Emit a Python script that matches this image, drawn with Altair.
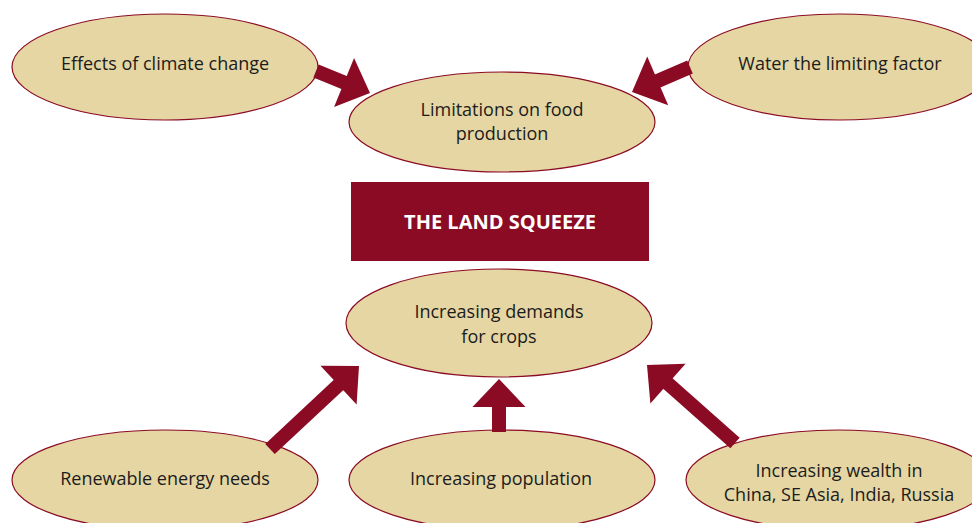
import math
import altair as alt
import pandas as pd

# ---------------- data (reference pixel coordinates) ----------------
ell_cx = [165, 840, 502, 499, 165, 502, 838]
ell_cy = [67, 67, 122, 323, 480, 480, 480]
ell_rx = [153, 152, 153, 153, 153, 153, 152]
ell_ry = [53, 53, 50, 54, 50, 50, 50]

label_text = ["Effects of climate change", "Water the limiting factor",
              "Limitations on food", "production",
              "Increasing demands", "for crops",
              "Renewable energy needs", "Increasing population",
              "Increasing wealth in", "China, SE Asia, India, Russia"]
label_x = [165, 840, 502, 502, 499, 499, 165, 501, 839, 839]
label_y = [65, 65, 111, 135, 313, 338, 480, 480, 472, 496]

title_text = ["THE LAND SQUEEZE"]
box_x = [351]
box_x2 = [649]
box_y = [182]
box_y2 = [261]

arrow_x0 = [316, 690, 270, 499, 735]
arrow_y0 = [71, 67, 449, 432, 443]
arrow_x1 = [370, 632, 359, 499, 647]
arrow_y1 = [93, 92, 366, 379, 365]

DARK = "#8b0b25"
FILL = "#e5d6a3"
TEXT = "#1c1c1c"
FONT = "Open Sans"

W, H = 964, 515
xs = alt.Scale(domain=[8, 8 + W], nice=False, zero=False)
ys = alt.Scale(domain=[8, 8 + H], nice=False, zero=False, reverse=True)

# ---------------- derived tables ----------------
K = 0.5523


def ellipse_path(r):
    return (f"M -1 0 C -1 {-K*r:.4f} {-K:.4f} {-r:.4f} 0 {-r:.4f} "
            f"C {K:.4f} {-r:.4f} 1 {-K*r:.4f} 1 0 "
            f"C 1 {K*r:.4f} {K:.4f} {r:.4f} 0 {r:.4f} "
            f"C {-K:.4f} {r:.4f} -1 {K*r:.4f} -1 0 Z")


ell = pd.DataFrame({
    "x": ell_cx, "y": ell_cy,
    "path": [ellipse_path(ry / rx) for rx, ry in zip(ell_rx, ell_ry)],
    "size": [(2 * rx) ** 2 for rx in ell_rx],
})

HEAD_L = 28.0
HEAD_HW = 26.5
head_path = f"M 0 {-HEAD_L/2/HEAD_HW:.4f} L 1 {HEAD_L/2/HEAD_HW:.4f} L -1 {HEAD_L/2/HEAD_HW:.4f} Z"

rows = []
for x0, y0, x1, y1 in zip(arrow_x0, arrow_y0, arrow_x1, arrow_y1):
    dx, dy = x1 - x0, y1 - y0
    n = math.hypot(dx, dy)
    ux, uy = dx / n, dy / n
    rows.append({
        "sx": x0, "sy": y0,
        "ex": x1 - ux * (HEAD_L - 2), "ey": y1 - uy * (HEAD_L - 2),
        "hx": x1 - ux * HEAD_L / 2, "hy": y1 - uy * HEAD_L / 2,
        "angle": math.degrees(math.atan2(dx, -dy)) % 360,
    })
arr = pd.DataFrame(rows)

labels = pd.DataFrame({"x": label_x, "y": label_y, "t": label_text})
box = pd.DataFrame({"x": box_x, "x2": box_x2, "y": box_y, "y2": box_y2,
                    "t": title_text,
                    "cx": [(a + b) / 2 for a, b in zip(box_x, box_x2)],
                    "cy": [(a + b) / 2 for a, b in zip(box_y, box_y2)]})

# ---------------- layers ----------------
ellipses = alt.Chart(ell).mark_point(
    filled=True, fill=FILL, stroke=DARK, strokeWidth=1.2, opacity=1
).encode(
    x=alt.X("x:Q", scale=xs, axis=None),
    y=alt.Y("y:Q", scale=ys, axis=None),
    shape=alt.Shape("path:N", scale=None),
    size=alt.Size("size:Q", scale=None),
)

rect = alt.Chart(box).mark_rect(color=DARK).encode(
    x=alt.X("x:Q", scale=xs, axis=None), x2="x2:Q",
    y=alt.Y("y:Q", scale=ys, axis=None), y2="y2:Q",
)

title = alt.Chart(box).mark_text(
    font=FONT, fontSize=20, fontWeight="bold", color="white",
    align="center", baseline="middle", dy=1
).encode(
    x=alt.X("cx:Q", scale=xs, axis=None),
    y=alt.Y("cy:Q", scale=ys, axis=None),
    text="t:N",
)

shafts = alt.Chart(arr).mark_rule(color=DARK, strokeWidth=14, strokeCap="butt").encode(
    x=alt.X("sx:Q", scale=xs, axis=None), x2="ex:Q",
    y=alt.Y("sy:Q", scale=ys, axis=None), y2="ey:Q",
)

heads = alt.Chart(arr).mark_point(
    filled=True, fill=DARK, strokeWidth=0, opacity=1, shape=head_path,
    size=(2 * HEAD_HW) ** 2
).encode(
    x=alt.X("hx:Q", scale=xs, axis=None),
    y=alt.Y("hy:Q", scale=ys, axis=None),
    angle=alt.Angle("angle:Q", scale=None),
)

texts = alt.Chart(labels).mark_text(
    font=FONT, fontSize=18, color=TEXT, align="center", baseline="middle"
).encode(
    x=alt.X("x:Q", scale=xs, axis=None),
    y=alt.Y("y:Q", scale=ys, axis=None),
    text="t:N",
)

chart = alt.layer(ellipses, shafts, heads, rect, title, texts).properties(
    width=W, height=H, padding=0, autosize=alt.AutoSizeParams(type="none"),
    background="white",
).configure_view(stroke=None)

chart.save("out.html", embed_options={"renderer": "svg", "actions": False})
